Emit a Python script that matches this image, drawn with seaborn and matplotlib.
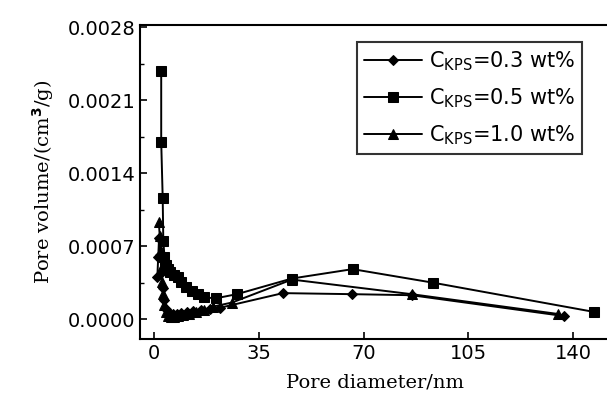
import matplotlib
matplotlib.use("Agg")
import matplotlib.pyplot as plt
import seaborn as sns
from matplotlib.ticker import MultipleLocator, FormatStrFormatter

# pore size distribution
x_03 = [1.0, 1.3, 1.6, 2.0, 2.4, 2.8, 3.3, 4.0, 5.0, 6.2, 7.5, 9.0, 11.0, 13.0, 15.5, 18.5, 22.0, 43.0, 66.0, 86.0, 137.0]
y_03 = [0.00040, 0.00060, 0.00078, 0.00062, 0.00045, 0.00030, 0.00018, 0.00010, 0.00006, 0.00005, 0.00005, 0.00006, 0.00007, 0.00008, 0.00009, 0.00010, 0.00011, 0.00025, 0.00024, 0.00023, 0.00003]

x_05 = [2.3, 2.3, 2.8, 3.0, 3.4, 4.0, 4.6, 5.4, 6.5, 7.8, 8.8, 10.5, 12.7, 14.5, 16.5, 20.5, 27.6, 46.0, 66.3, 93.2, 147.0]
y_05 = [0.00238, 0.00170, 0.00116, 0.00075, 0.00060, 0.00052, 0.00048, 0.00045, 0.00042, 0.00040, 0.00036, 0.00031, 0.00027, 0.00024, 0.00021, 0.00020, 0.00024, 0.00039, 0.00048, 0.00035, 0.00007]

x_10 = [1.5, 1.8, 2.1, 2.4, 2.7, 3.0, 3.4, 3.9, 4.6, 5.5, 6.6, 8.0, 9.6, 11.5, 13.8, 16.5, 19.5, 26.0, 46.0, 86.0, 135.0]
y_10 = [0.00093, 0.00080, 0.00065, 0.00050, 0.00036, 0.00024, 0.00014, 0.00007, 0.00003, 0.00002, 0.00002, 0.00003, 0.00004, 0.00005, 0.00007, 0.00009, 0.00012, 0.00016, 0.00038, 0.00024, 0.00005]

labels = [r"C$_{\rm KPS}$=0.3 wt%", r"C$_{\rm KPS}$=0.5 wt%", r"C$_{\rm KPS}$=1.0 wt%"]

sns.set_style("ticks")
plt.rcParams['font.family'] = ['DejaVu Sans']
plt.rcParams['text.color'] = 'black'
plt.rcParams['xtick.color'] = 'black'
plt.rcParams['ytick.color'] = 'black'
plt.rcParams['axes.labelcolor'] = 'black'

fig = plt.figure(figsize=(6.07, 4.09), dpi=100)
ax = fig.add_axes([0.2306, 0.1711, 0.775, 0.7677])

series = [(x_03, y_03, "D", 5), (x_05, y_05, "s", 6.5), (x_10, y_10, "^", 7)]
for (xs, ys, mk, ms), lab in zip(series, labels):
    sns.lineplot(x=xs, y=ys, ax=ax, color="black", marker=mk, markersize=ms,
                 markeredgecolor="black", linewidth=1.4, sort=False,
                 estimator=None, label=lab)

ax.set_xlim(-4.8, 152.5)
ax.set_ylim(-0.00019, 0.00282)
ax.xaxis.set_major_locator(MultipleLocator(35))
ax.yaxis.set_major_locator(MultipleLocator(0.0007))
ax.yaxis.set_minor_locator(MultipleLocator(0.00035))
ax.yaxis.set_major_formatter(FormatStrFormatter("%.4f"))
ax.tick_params(direction="in", length=5, width=1.2, labelsize=14, top=False, right=False)
ax.tick_params(which="minor", direction="in", length=3, width=1.0)
for s in ax.spines.values():
    s.set_linewidth(1.5)
    s.set_color("black")
ax.spines["right"].set_visible(False)

ax.set_xlabel("Pore diameter/nm", family="DejaVu Serif", fontsize=14, labelpad=8)
ax.set_ylabel(r"Pore volume/(cm$^{\bf 3}$/g)", family="DejaVu Serif", fontsize=14, labelpad=8)

leg = ax.legend(loc="upper right", bbox_to_anchor=(0.962, 0.98), fontsize=15,
                frameon=True, fancybox=False, edgecolor="black", handlelength=2.8,
                borderpad=0.35, labelspacing=0.65, handletextpad=0.3)
leg.get_frame().set_linewidth(1.5)

fig.savefig("out.png", dpi=100)
